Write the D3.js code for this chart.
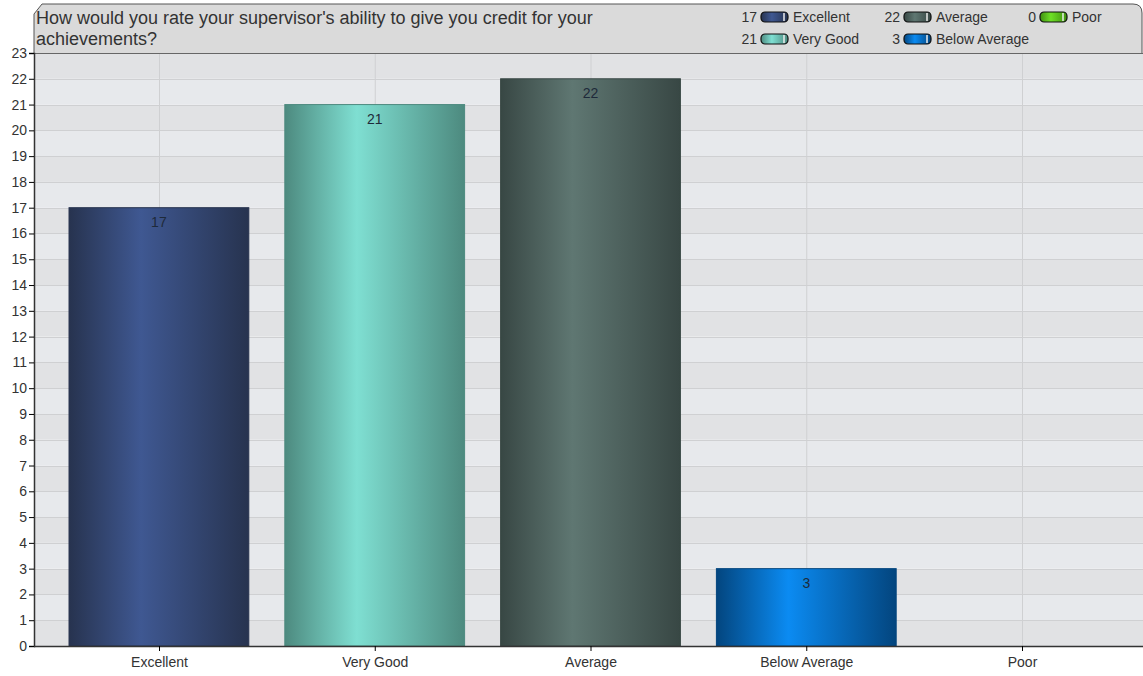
<!DOCTYPE html>
<html>
<head>
<meta charset="utf-8">
<script src="https://cdn.jsdelivr.net/npm/d3@7"></script>
<style>
  body { margin: 0; background: #fff; }
  svg { font-family: Arial, "Liberation Sans", sans-serif; }
</style>
</head>
<body>
<svg id="chart" width="1143" height="676"></svg>
<script>
// data
var categories = ["Excellent", "Very Good", "Average", "Below Average", "Poor"];
var counts = [17, 21, 22, 3, 0];
var yTicks = d3.range(0, 24);
var titleLines = ["How would you rate your supervisor's ability to give you credit for your", "achievements?"];

// colours: edge / middle of each bar
var edgeCols = ["#27334f", "#4d8a7f", "#384744", "#03457e", "#3f8f10"];
var midCols = ["#3f5892", "#7fdfd2", "#5f7772", "#0b8bf2", "#6ee026"];

var svg = d3.select("#chart");
var plotL = 34, plotR = 1143, plotT = 53, plotB = 646;

var x = d3.scaleBand().domain(categories).range([51, 1130]).paddingInner(0.1669).paddingOuter(0.0835);
var xc = d3.scalePoint().domain(categories).range([159, 1022]);
var y = d3.scaleLinear().domain([0, 23]).range([plotB, plotT]);

var defs = svg.append("defs");
categories.forEach(function(c, i) {
  var g = defs.append("linearGradient").attr("id", "grad" + i).attr("x1", 0).attr("x2", 1).attr("y1", 0).attr("y2", 0);
  g.append("stop").attr("offset", "0%").attr("stop-color", edgeCols[i]);
  g.append("stop").attr("offset", "40%").attr("stop-color", midCols[i]);
  g.append("stop").attr("offset", "100%").attr("stop-color", edgeCols[i]);
});

// alternating bands
svg.append("g").selectAll("rect").data(d3.range(0, 23)).enter().append("rect")
  .attr("x", plotL).attr("width", plotR - plotL)
  .attr("y", function(d) { return y(d + 1); })
  .attr("height", function(d) { return y(d) - y(d + 1); })
  .attr("fill", function(d) { return d % 2 === 0 ? "#e1e2e4" : "#e7e9ec"; });

// grid
svg.append("g").selectAll("line").data(yTicks).enter().append("line")
  .attr("x1", plotL).attr("x2", plotR)
  .attr("y1", function(d) { return Math.round(y(d)) + 0.5; }).attr("y2", function(d) { return Math.round(y(d)) + 0.5; })
  .attr("stroke", "#cfd0d2").attr("stroke-width", 1);
svg.append("g").selectAll("line").data(categories).enter().append("line")
  .attr("x1", function(d) { return xc(d) + 0.5; }).attr("x2", function(d) { return xc(d) + 0.5; })
  .attr("y1", plotT).attr("y2", plotB)
  .attr("stroke", "#cfd0d2").attr("stroke-width", 1);

// header box
var hp = d3.path();
hp.moveTo(plotL, plotT);
hp.lineTo(plotL, 14);
hp.lineTo(42, 4);
hp.lineTo(plotR - 10, 4);
hp.quadraticCurveTo(plotR - 1, 4, plotR - 1, 13);
hp.lineTo(plotR - 1, plotT);
svg.append("path").attr("d", hp.toString()).attr("fill", "#dadada").attr("stroke", "#555").attr("stroke-width", 1);
svg.append("line").attr("x1", plotL).attr("x2", plotR).attr("y1", plotT + 0.5).attr("y2", plotT + 0.5).attr("stroke", "#666");

svg.append("g").selectAll("text").data(titleLines).enter().append("text")
  .attr("x", 36).attr("y", function(d, i) { return 24 + i * 21; })
  .attr("font-size", 18).attr("fill", "#333").text(function(d) { return d; });

// legend
var legX = [757, 900, 1036], legY = [17, 39];
var leg = svg.append("g").selectAll("g").data(categories).enter().append("g")
  .attr("transform", function(d, i) { return "translate(" + legX[Math.floor(i / 2)] + "," + legY[i % 2] + ")"; });
leg.append("text").attr("x", 0).attr("y", 5).attr("text-anchor", "end").attr("font-size", 14).attr("fill", "#333")
  .text(function(d, i) { return counts[i]; });
leg.append("rect").attr("x", 4).attr("y", -5).attr("width", 27).attr("height", 10).attr("rx", 4)
  .attr("fill", function(d, i) { return "url(#grad" + i + ")"; }).attr("stroke", "#111").attr("stroke-width", 1.2);
leg.append("line").attr("x1", 27).attr("x2", 27).attr("y1", -4).attr("y2", 4).attr("stroke", "#eee").attr("stroke-width", 1.5);
leg.append("text").attr("x", 36).attr("y", 5).attr("font-size", 14).attr("fill", "#333").text(function(d) { return d; });

// bars
var bars = svg.append("g").selectAll("g").data(categories).enter().append("g");
bars.append("rect")
  .attr("x", function(d) { return x(d); })
  .attr("width", x.bandwidth())
  .attr("y", function(d, i) { return y(counts[i]); })
  .attr("height", function(d, i) { return plotB - y(counts[i]); })
  .attr("fill", function(d, i) { return "url(#grad" + i + ")"; })
  .attr("stroke", function(d, i) { return edgeCols[i]; }).attr("stroke-width", 1)
  .attr("display", function(d, i) { return counts[i] > 0 ? null : "none"; });
bars.append("text")
  .attr("x", function(d) { return x(d) + x.bandwidth() / 2; })
  .attr("y", function(d, i) { return y(counts[i]) + 19; })
  .attr("text-anchor", "middle").attr("font-size", 14).attr("fill", "#1e2a3a")
  .attr("display", function(d, i) { return counts[i] > 0 ? null : "none"; })
  .text(function(d, i) { return counts[i]; });

// axes
var yAxis = svg.append("g").attr("transform", "translate(" + plotL + ",0)")
  .call(d3.axisLeft(y).tickValues(yTicks).tickSize(5).tickPadding(2).tickFormat(d3.format("d")));
yAxis.select(".domain").attr("stroke", "#333").attr("stroke-width", 1.5);
yAxis.selectAll("text").attr("font-size", 14).attr("fill", "#333").attr("font-family", "Arial, 'Liberation Sans', sans-serif");

var xAxis = svg.append("g").attr("transform", "translate(0," + plotB + ")")
  .call(d3.axisBottom(xc).tickSize(5).tickPadding(6).tickSizeOuter(0));
xAxis.select(".domain").attr("d", "M" + plotL + ",0.5H" + plotR).attr("stroke", "#333").attr("stroke-width", 1.5);
xAxis.selectAll("text").attr("font-size", 14).attr("fill", "#333").attr("font-family", "Arial, 'Liberation Sans', sans-serif");
</script>
</body>
</html>
